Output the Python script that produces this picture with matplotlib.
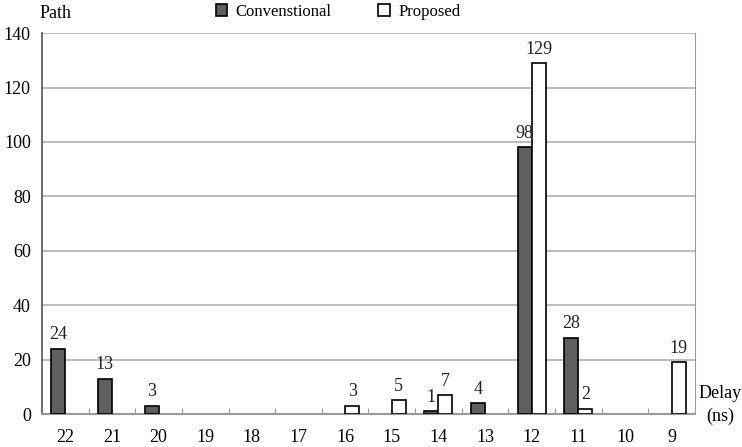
import matplotlib.pyplot as plt
from matplotlib.patches import Patch
import numpy as np

plt.rcParams['font.family'] = ['Liberation Serif', 'DejaVu Serif']

delays = ['22', '21', '20', '19', '18', '17', '16', '15', '14', '13', '12', '11', '10', '9']
conventional = [24, 13, 3, 0, 0, 0, 0, 0, 1, 4, 98, 28, 0, 0]
proposed = [0, 0, 0, 0, 0, 0, 3, 5, 7, 0, 129, 2, 0, 19]

fig = plt.figure(figsize=(7.42, 4.47), dpi=100)
ax = fig.add_axes([0.0566, 0.0738, 0.88, 0.852])

x = np.arange(len(delays))
w = 0.3
b1 = ax.bar(x - w / 2, conventional, w, color='#5f5f5f', edgecolor='black', linewidth=1.2,
            zorder=3)
b2 = ax.bar(x + w / 2, proposed, w, color='white', edgecolor='black', linewidth=1.2,
            zorder=3)

# hide empty bars and label the others
for bars, vals, off in [(b1, conventional, -w / 2), (b2, proposed, w / 2)]:
    for i, (p, v) in enumerate(zip(bars.patches, vals)):
        if v == 0:
            p.set_visible(False)
        else:
            ax.text(x[i] + off, v + 2, str(v), ha='center', va='bottom',
                    fontsize=13, color='#222222')

ax.set_xlim(-0.5, len(delays) - 0.5)
ax.set_ylim(0, 140)
ax.set_yticks(range(0, 141, 20))
ax.set_xticks(x)
ax.set_xticklabels(delays)
ax.set_xticks(np.arange(0.5, len(delays) - 0.5), minor=True)
ax.tick_params(axis='x', which='major', length=0, labelsize=13, pad=11)
ax.tick_params(axis='x', which='minor', length=4, direction='in', color='#888888')
ax.tick_params(axis='y', length=0, labelsize=13, pad=8)

ax.grid(axis='y', color='#b0b0b0', linewidth=1.2, zorder=0)
ax.spines['top'].set_visible(False)
ax.spines['left'].set_color('#555555')
ax.spines['left'].set_linewidth(1.2)
ax.spines['right'].set_color('#999999')
ax.spines['bottom'].set_color('#999999')
ax.spines['bottom'].set_linewidth(1.5)

fig.text(40 / 742, 1 - 13 / 447, 'Path', fontsize=13, ha='left', va='center')
fig.text(720 / 742, 1 - 405 / 447, 'Delay\n(ns)', fontsize=13, ha='center', va='center',
         linespacing=1.4)

handles = [Patch(facecolor='#5f5f5f', edgecolor='black', linewidth=1.2, label='Convenstional'),
           Patch(facecolor='white', edgecolor='black', linewidth=1.2, label='Proposed')]
fig.legend(handles=handles, loc='center', bbox_to_anchor=(338 / 742, 1 - 12 / 447), ncol=2,
           frameon=False, fontsize=12, handlelength=0.7, handleheight=0.7, columnspacing=2.8,
           handletextpad=0.5)

fig.savefig('out.png', dpi=100)
